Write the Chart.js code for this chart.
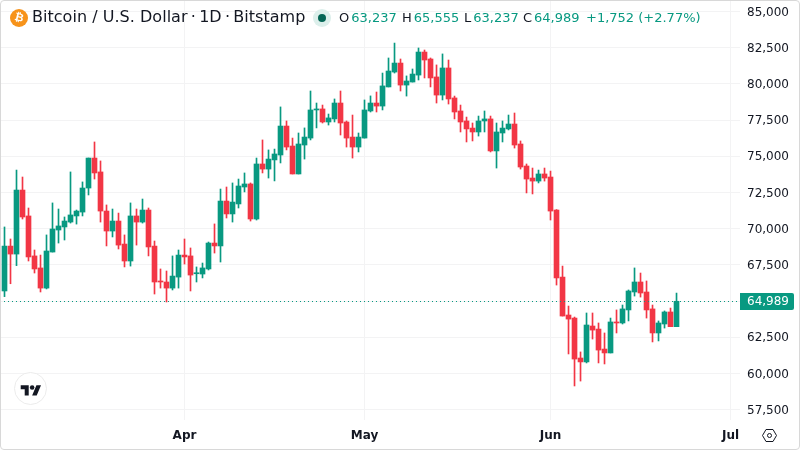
<!DOCTYPE html>
<html>
<head>
<meta charset="utf-8">
<title>BTCUSD 1D</title>
<script src="https://cdn.jsdelivr.net/npm/chart.js@4/dist/chart.umd.min.js"></script>
<style>
  html, body { margin: 0; padding: 0; background: #fff; }
  #wrap { position: relative; width: 800px; height: 450px; overflow: hidden; font-family: "DejaVu Sans", sans-serif; color: #131722; }
  #frame { position: absolute; left: 0; top: 0; width: 798px; height: 448px; border: 1px solid #d8d8d8; border-radius: 4px; pointer-events: none; }
  canvas { position: absolute; left: 0; top: 0; }
  .legend { position: absolute; top: 9px; font-size: 13px; line-height: 17px; white-space: nowrap; color: #089981; letter-spacing: 0; }
  .legend b { font-weight: normal; color: #131722; margin-right: 2px; }
  #title { position: absolute; left: 32px; top: 7px; font-size: 16px; line-height: 20px; white-space: nowrap; letter-spacing: 0.03px; }
  #coin { position: absolute; left: 10px; top: 9px; width: 18px; height: 18px; border-radius: 50%; background: #f7931a; color: #fff; font-size: 11px; font-weight: bold; line-height: 18px; text-align: center; }
  #coin span { display: block; transform: rotate(14deg); }
  #status { position: absolute; left: 313px; top: 9px; width: 18px; height: 18px; border-radius: 50%; background: #dcefeb; }
  #status i { position: absolute; left: 5px; top: 5px; width: 8px; height: 8px; border-radius: 50%; background: #056656; }
  #logo { position: absolute; left: 14px; top: 372px; width: 31px; height: 31px; border: 1px solid #ebebeb; border-radius: 50%; background: #fff; }
  #logo svg { position: absolute; left: 5px; top: 11px; }
  #gear { position: absolute; left: 761px; top: 428px; }
</style>
</head>
<body>
<div id="wrap">
  <canvas id="priceChart" width="800" height="450"></canvas>
  <div id="coin"><span>₿</span></div>
  <div id="title">Bitcoin / U.S. Dollar&#8201;·&#8201;1D&#8201;·&#8201;Bitstamp</div>
  <div id="status"><i></i></div>
  <div class="legend" style="left:339px"><b>O</b><span id="o-val"></span></div>
  <div class="legend" style="left:402px"><b>H</b><span id="h-val"></span></div>
  <div class="legend" style="left:464px"><b>L</b><span id="l-val"></span></div>
  <div class="legend" style="left:523px"><b>C</b><span id="c-val"></span></div>
  <div class="legend" style="left:586px">+1,752 (+2.77%)</div>
  <div id="logo">
    <svg width="22" height="12" viewBox="0 2 36 21"><path fill="#131722" d="M14 22H7V11H0V4h14v18zM28 22h-8l7.5-18h8L28 22z"/><circle fill="#131722" cx="20" cy="8" r="4"/></svg>
  </div>
  <svg id="gear" width="17" height="15" viewBox="0 0 17 15">
    <polygon points="1.5,7.5 5,1.5 12,1.5 15.5,7.5 12,13.5 5,13.5" fill="none" stroke="#131722" stroke-width="1"/>
    <circle cx="8.5" cy="7.5" r="2" fill="none" stroke="#131722" stroke-width="1"/>
  </svg>
  <div id="frame"></div>
</div>

<script>
// daily candles, Mar 2 to Jun 22
const opens = [
  65700, 68800, 68250, 72670, 70880, 68120, 67290, 65900, 68390, 69910,
  70120, 70460, 70880, 71150, 72810, 74880, 73920, 71220, 69840, 70530,
  68940, 67770, 70880, 70460, 71290, 68800, 66390, 66320, 65900, 66660,
  68180, 68120, 66890, 66870, 67220, 69010, 68810, 71910, 71020, 71710,
  72880, 73090, 70670, 74470, 74120, 74750, 75090, 77090, 75710, 73780,
  75780, 76260, 78200, 78270, 77370, 77580, 78680, 77370, 76330, 75640,
  76260, 78130, 78680, 78470, 79790, 80820, 81440, 79920, 80130, 80610,
  82200, 81720, 80480, 79230, 81100, 79030, 78130, 77440, 76950, 76680,
  77440, 77580, 75370, 76610, 76890, 77230, 75850, 74330, 73500, 73290,
  73780, 73570, 71290, 66660, 64040, 63830, 61070, 60800, 63280, 63070,
  61690, 61420, 63560, 63490, 64390, 65630, 66320, 65630, 64460, 62800,
  63420, 64250, 63237
];
const highs = [
  70120, 69290, 74050, 73570, 71430, 68530, 68180, 69570, 71780, 71360,
  70810, 73920, 71290, 73230, 74880, 75990, 74680, 71640, 71360, 71080,
  69570, 71780, 71360, 72050, 71430, 69150, 67220, 67080, 68120, 68530,
  69290, 68670, 67360, 67630, 69080, 70330, 72740, 72880, 73160, 73430,
  73850, 73160, 74880, 76130, 75440, 75500, 78410, 77440, 76260, 76610,
  76960, 79510, 78680, 78540, 77920, 78960, 79510, 77440, 77850, 76610,
  78890, 79170, 79440, 80750, 81790, 82820, 81720, 80550, 81030, 82480,
  82340, 81790, 81310, 82070, 81650, 79160, 78540, 77710, 77300, 77780,
  78130, 77780, 77300, 77440, 77850, 77990, 76060, 74470, 74190, 74050,
  74190, 73980, 71320, 67420, 64660, 63900, 61490, 64180, 64180, 63490,
  62800, 63830, 64390, 64730, 65770, 67290, 66940, 66390, 64730, 63630,
  64320, 64520, 65555
];
const lows = [
  65310, 66200, 67450, 70670, 67770, 66940, 65630, 65840, 68390, 69010,
  69220, 70390, 70320, 70880, 72330, 73430, 70460, 68810, 69430, 68600,
  67360, 67420, 68870, 70390, 68120, 65490, 65900, 64940, 65770, 65900,
  67560, 65700, 66320, 66600, 67150, 68320, 67700, 70740, 70460, 71430,
  72540, 70530, 70600, 73850, 73500, 73300, 74540, 75440, 73780, 73780,
  74810, 76130, 76960, 77300, 77160, 77370, 76470, 75640, 74880, 75300,
  76260, 78060, 78060, 78200, 79790, 80750, 79510, 79160, 80130, 80270,
  80410, 79790, 78680, 78890, 78610, 77580, 76680, 75990, 76060, 76400,
  76680, 75300, 74190, 75990, 76820, 75570, 74120, 72470, 72400, 73160,
  73290, 70600, 66110, 63970, 61350, 59140, 59480, 60730, 62380, 60730,
  60660, 61420, 62800, 63420, 63630, 65350, 65280, 63830, 62180, 62250,
  63140, 63237, 63237
];
const closes = [
  68800, 68250, 72670, 70810, 68050, 67220, 65900, 68460, 69980, 70190,
  70530, 70950, 71220, 72810, 74880, 73850, 71220, 69840, 70530, 68870,
  67770, 70880, 70460, 71290, 68740, 66320, 66320, 65900, 66730, 68180,
  68050, 66800, 66940, 67290, 69010, 68810, 71910, 71020, 71840, 72950,
  73090, 70670, 74470, 74120, 74810, 75160, 77090, 75640, 73780, 75850,
  76330, 78200, 78270, 77370, 77650, 78680, 77300, 76260, 75640, 76330,
  78200, 78680, 78470, 79860, 80890, 81440, 79920, 80200, 80680, 82200,
  81650, 80410, 79230, 81100, 78960, 78060, 77370, 76890, 76680, 77440,
  77580, 75370, 76680, 76950, 77230, 75780, 74260, 73430, 73290, 73780,
  73500, 71220, 66600, 63970, 63760, 61000, 60800, 63350, 63000, 61620,
  61420, 63560, 63490, 64460, 65700, 66320, 65560, 64390, 62800, 63490,
  64250, 63237, 64989
];

const priceTicks = [57500, 60000, 62500, 65000, 67500, 70000, 72500, 75000, 77500, 80000, 82500, 85000];
const monthTicks = [30, 60, 91, 121]; // candle index each month starts at
const monthLabels = ['Apr', 'May', 'Jun', 'Jul'];

const UP = '#089981';
const DOWN = '#F23645';
const GRID = '#f3f3f4';
const TEXT = '#131722';

const lastIndex = closes.length - 1;
const lastClose = closes[lastIndex];

function fmt(value) {
  return value.toLocaleString('en-US');
}

function candleColor(ctx) {
  const i = ctx.dataIndex;
  return closes[i] >= opens[i] ? UP : DOWN;
}

// the plot runs edge to edge, so drop the room Chart.js keeps for outer tick labels
function clearAxisPadding(axis) {
  axis.paddingTop = 0;
  axis.paddingBottom = 0;
  axis.paddingLeft = 0;
  axis.paddingRight = 0;
}

document.getElementById('o-val').textContent = fmt(opens[lastIndex]);
document.getElementById('h-val').textContent = fmt(highs[lastIndex]);
document.getElementById('l-val').textContent = fmt(lows[lastIndex]);
document.getElementById('c-val').textContent = fmt(lastClose);

// price labels, dotted line and tag for the last close
const priceAxisPlugin = {
  id: 'priceAxis',
  afterDatasetsDraw(chart) {
    const { ctx, chartArea, scales } = chart;
    const y = Math.round(scales.y.getPixelForValue(lastClose)) + 0.5;
    const labelX = chartArea.right + 7;
    ctx.save();
    ctx.font = '12px "DejaVu Sans"';
    ctx.textAlign = 'left';
    ctx.textBaseline = 'middle';

    // a tick label that would sit under the tag is left out
    ctx.fillStyle = TEXT;
    priceTicks.forEach(tick => {
      const tickY = scales.y.getPixelForValue(tick);
      if (Math.abs(tickY - y) > 12) {
        ctx.fillText(fmt(tick), labelX, tickY + 1);
      }
    });

    ctx.strokeStyle = UP;
    ctx.lineWidth = 1;
    ctx.setLineDash([1, 3]);
    ctx.beginPath();
    ctx.moveTo(chartArea.left, y);
    ctx.lineTo(chartArea.right, y);
    ctx.stroke();
    ctx.setLineDash([]);

    ctx.fillStyle = UP;
    ctx.beginPath();
    ctx.roundRect(chartArea.right, y - 8.5, 54, 17, [0, 2, 2, 0]);
    ctx.fill();
    ctx.fillStyle = '#fff';
    ctx.fillText(fmt(lastClose), labelX, y + 0.5);
    ctx.restore();
  }
};

new Chart(document.getElementById('priceChart'), {
  type: 'bar',
  data: {
    datasets: [
      {
        label: 'Wick',
        data: lows.map((low, i) => ({ x: i, y: [low, highs[i]] })),
        backgroundColor: candleColor,
        barThickness: 1,
        grouped: false,
        order: 2
      },
      {
        label: 'Body',
        data: opens.map((open, i) => ({ x: i, y: [open, closes[i]] })),
        backgroundColor: candleColor,
        barThickness: 5,
        minBarLength: 1,
        grouped: false,
        order: 1
      }
    ]
  },
  options: {
    responsive: false,
    animation: false,
    layout: { padding: { top: 1, left: 0, right: 0, bottom: 0 } },
    plugins: { legend: { display: false }, tooltip: { enabled: false } },
    scales: {
      x: {
        type: 'linear',
        offset: false,
        min: -0.75,
        max: 122.58,
        afterBuildTicks(axis) {
          axis.ticks = monthTicks.map(value => ({ value }));
        },
        afterFit(axis) {
          axis.height = 30;
          clearAxisPadding(axis);
        },
        grid: { color: GRID, drawTicks: false, offset: false },
        border: { display: false },
        ticks: {
          autoSkip: false,
          maxRotation: 0,
          padding: 9,
          color: TEXT,
          font: { family: '"DejaVu Sans"', size: 12, weight: 'bold' },
          callback: value => monthLabels[monthTicks.indexOf(value)]
        }
      },
      y: {
        position: 'right',
        min: 56790,
        max: 85725,
        afterBuildTicks(axis) {
          axis.ticks = priceTicks.map(value => ({ value }));
        },
        afterFit(axis) {
          axis.width = 60;
          clearAxisPadding(axis);
        },
        grid: { color: GRID, drawTicks: false },
        border: { display: false },
        ticks: { display: false }
      }
    }
  },
  plugins: [priceAxisPlugin]
});
</script>
</body>
</html>
